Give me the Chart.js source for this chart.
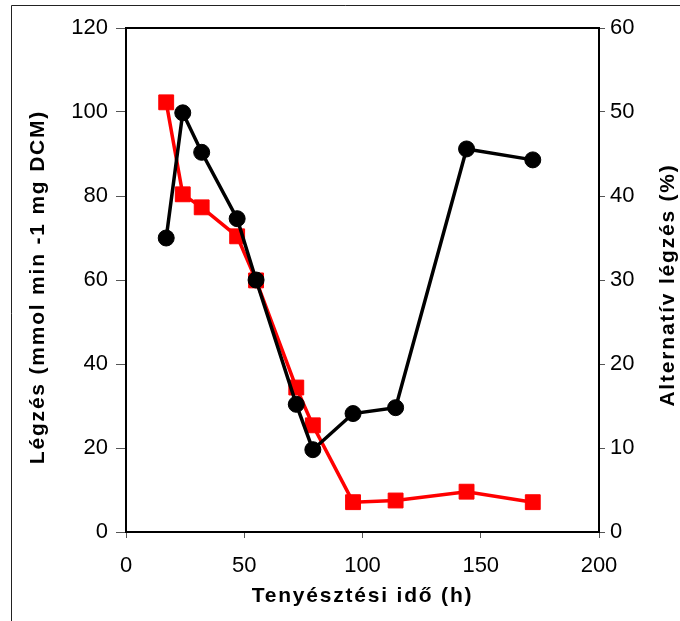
<!DOCTYPE html>
<html>
<head>
<meta charset="utf-8">
<script src="https://cdn.jsdelivr.net/npm/chart.js@4"></script>
<style>
  html, body { margin: 0; padding: 0; background: #fff; }
  #wrap { width: 680px; height: 621px; position: relative; }
</style>
</head>
<body>
<div id="wrap"><canvas id="chart"></canvas></div>
<script>
// Culture time (h) and the two measured series
const hours = [17, 24, 32, 47, 55, 72, 79, 96, 114, 144, 172];
const respiration = [102.3, 80.4, 77.3, 70.4, 59.9, 34.4, 25.4, 7.1, 7.5, 9.6, 7.1];
const alternative = [35.0, 49.9, 45.2, 37.3, 30.0, 15.2, 9.8, 14.1, 14.8, 45.6, 44.3];

const xTitle = 'Tenyésztési idő (h)';
const yTitle = 'Légzés (mmol min -1 mg DCM)';
const y1Title = 'Alternatív légzés (%)';

const fontFamily = "'Liberation Sans', Arial, sans-serif";
const tickFont = { family: fontFamily, size: 22 };

// outer frame, plot box and axis titles
const decorations = {
    id: 'decorations',
    beforeDraw(chart) {
        const ctx = chart.ctx;
        ctx.save();
        ctx.fillStyle = '#fff';
        ctx.fillRect(0, 0, chart.width, chart.height);
        ctx.strokeStyle = '#222';
        ctx.lineWidth = 1;
        ctx.beginPath();
        ctx.moveTo(11.5, chart.height);
        ctx.lineTo(11.5, 5.5);
        ctx.lineTo(chart.width, 5.5);
        ctx.stroke();
        ctx.restore();
    },
    afterDraw(chart) {
        const ctx = chart.ctx;
        const a = chart.chartArea;
        ctx.save();
        ctx.strokeStyle = '#000';
        ctx.lineWidth = 2;
        ctx.beginPath();
        ctx.moveTo(a.left, a.top);
        ctx.lineTo(a.right, a.top);
        ctx.stroke();

        ctx.fillStyle = '#000';
        ctx.font = 'bold 21px ' + fontFamily;
        ctx.letterSpacing = '1.8px';
        ctx.textAlign = 'center';
        ctx.textBaseline = 'middle';
        const midY = (a.top + a.bottom) / 2;

        ctx.fillText(xTitle, (a.left + a.right) / 2, 596);

        ctx.save();
        ctx.translate(38, midY + 7);
        ctx.rotate(-Math.PI / 2);
        ctx.fillText(yTitle, 0, 0);
        ctx.restore();

        ctx.save();
        ctx.translate(668, midY + 5);
        ctx.rotate(-Math.PI / 2);
        ctx.fillText(y1Title, 0, 0);
        ctx.restore();
        ctx.restore();
    }
};

const ctx = document.getElementById('chart').getContext('2d');

new Chart(ctx, {
    type: 'line',
    data: {
        datasets: [{
            label: y1Title,
            data: hours.map((h, i) => ({ x: h, y: alternative[i] })),
            yAxisID: 'y1',
            borderColor: '#000',
            backgroundColor: '#000',
            borderWidth: 3.5,
            pointStyle: 'circle',
            pointRadius: 8,
            pointBorderWidth: 1,
            tension: 0
        }, {
            label: yTitle,
            data: hours.map((h, i) => ({ x: h, y: respiration[i] })),
            yAxisID: 'y',
            borderColor: '#ff0000',
            backgroundColor: '#ff0000',
            borderWidth: 3.5,
            pointStyle: 'rect',
            pointRadius: 10.5,
            pointBorderWidth: 1,
            tension: 0
        }]
    },
    options: {
        responsive: true,
        maintainAspectRatio: false,
        animation: false,
        layout: { padding: { top: 28, left: 0, right: 0, bottom: 0 } },
        plugins: {
            legend: { display: false },
            tooltip: { enabled: false }
        },
        scales: {
            x: {
                type: 'linear',
                min: 0,
                max: 200,
                afterFit: scale => { scale.height = 89; },
                ticks: { stepSize: 50, color: '#000', font: tickFont, padding: 15, maxRotation: 0 },
                grid: { drawOnChartArea: false, tickLength: 6, color: '#555' },
                border: { color: '#000', width: 2 }
            },
            y: {
                position: 'left',
                min: 0,
                max: 120,
                afterFit: scale => { scale.width = 126; },
                ticks: { stepSize: 20, color: '#000', font: tickFont, padding: 8 },
                grid: { drawOnChartArea: false, tickLength: 10, color: '#555' },
                border: { color: '#000', width: 2 }
            },
            y1: {
                position: 'right',
                min: 0,
                max: 60,
                afterFit: scale => { scale.width = 81; },
                ticks: { stepSize: 10, color: '#000', font: tickFont, padding: 5 },
                grid: { drawOnChartArea: false, tickLength: 6, color: '#555' },
                border: { color: '#000', width: 2 }
            }
        }
    },
    plugins: [decorations]
});
</script>
</body>
</html>
